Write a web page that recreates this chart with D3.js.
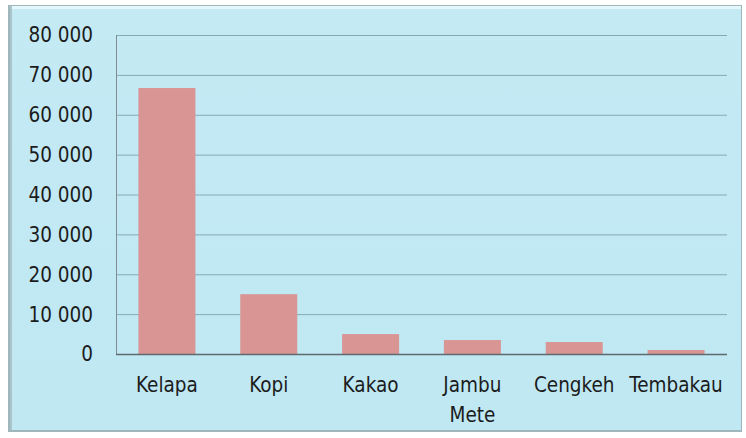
<!DOCTYPE html>
<html><head><meta charset="utf-8">
<script src="https://cdn.jsdelivr.net/npm/d3@7"></script>
<style>body{margin:0;background:#fff}svg{display:block}</style>
</head><body>
<svg id="c" width="746" height="438"></svg>
<script>
const categories = [["Kelapa"], ["Kopi"], ["Kakao"], ["Jambu", "Mete"], ["Cengkeh"], ["Tembakau"]];
const values = [66700, 15000, 5000, 3500, 3000, 1000];
const yTicks = [0, 10000, 20000, 30000, 40000, 50000, 60000, 70000, 80000];

const svg = d3.select("#c");
const W = 746, H = 438;
const m = {left: 116, right: 19, top: 35, bottom: 84};
const defs = svg.append("defs");
const g1 = defs.append("linearGradient").attr("id","bg").attr("x1",0).attr("y1",0).attr("x2",0).attr("y2",1);
g1.append("stop").attr("offset","0").attr("stop-color","#c4eaf4");
g1.append("stop").attr("offset","1").attr("stop-color","#bfe8f3");

// frame
svg.append("rect").attr("x",8).attr("y",5).attr("width",734).attr("height",427).attr("fill","#9fb6bd");
svg.append("rect").attr("x",10).attr("y",6).attr("width",731).attr("height",424).attr("fill","url(#bg)");
svg.append("rect").attr("x",10).attr("y",6).attr("width",731).attr("height",3).attr("fill","#e4f7fb");
svg.append("rect").attr("x",10).attr("y",6).attr("width",2).attr("height",424).attr("fill","#a9c4cb");

const x = d3.scaleBand().domain(d3.range(categories.length)).range([m.left, W - m.right]).paddingInner(0.44).paddingOuter(0.22);
const y = d3.scaleLinear().domain([0, 80000]).range([H - m.bottom, m.top]);

const fmt = v => d3.format(",")(v).replace(/,/g, " ");

// gridlines
svg.append("g").selectAll("line").data(yTicks.filter(t => t > 0)).join("line")
  .attr("x1", m.left).attr("x2", W - m.right)
  .attr("y1", d => y(d) + 0.5).attr("y2", d => y(d) + 0.5)
  .attr("stroke", "#86aab4").attr("stroke-width", 1);

// bars
svg.append("g").selectAll("rect").data(values).join("rect")
  .attr("x", (d, i) => x(i)).attr("width", x.bandwidth())
  .attr("y", d => y(d)).attr("height", d => y(0) - y(d))
  .attr("fill", "#d99594");

// axes lines
svg.append("line").attr("x1", m.left + 0.5).attr("x2", m.left + 0.5).attr("y1", y(80000)).attr("y2", y(0)).attr("stroke", "#7f8c90");
svg.append("line").attr("x1", m.left).attr("x2", W - m.right).attr("y1", y(0) + 0.5).attr("y2", y(0) + 0.5).attr("stroke", "#5f6a6e").attr("stroke-width", 1.5);

// y labels
svg.append("g").selectAll("text").data(yTicks).join("text")
  .attr("x", 93).attr("y", d => y(d)).attr("dy", "0.36em")
  .attr("text-anchor", "end")
  .attr("font-family", "DejaVu Sans Condensed, DejaVu Sans").attr("font-stretch", "condensed").attr("font-size", 20.5).attr("fill", "#1c1c1c")
  .text(fmt);

// x labels
const xl = svg.append("g").selectAll("text").data(categories).join("text")
  .attr("x", (d, i) => x(i) + x.bandwidth() / 2).attr("y", 392)
  .attr("text-anchor", "middle")
  .attr("font-family", "DejaVu Sans Condensed, DejaVu Sans").attr("font-stretch", "condensed").attr("font-size", 20.5).attr("fill", "#1c1c1c");
xl.selectAll("tspan").data(d => d).join("tspan")
  .attr("x", function() { return this.parentNode.getAttribute("x"); })
  .attr("dy", (d, i) => i === 0 ? 0 : 30)
  .text(d => d);
</script>
</body></html>
